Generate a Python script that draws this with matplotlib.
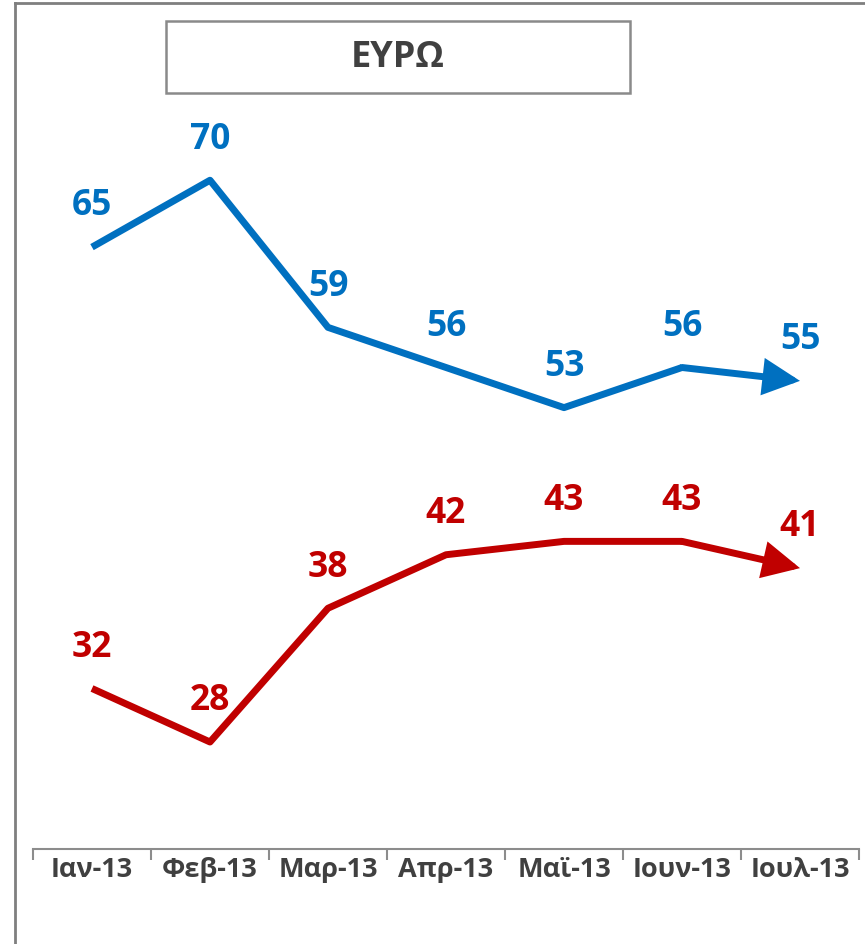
import matplotlib
matplotlib.use("Agg")
import matplotlib.pyplot as plt
from matplotlib.lines import Line2D
from matplotlib.patches import Rectangle
from matplotlib.ticker import FixedLocator

plt.rcParams['font.family'] = ['Open Sans', 'DejaVu Sans']

categories = ["Ιαν-13", "Φεβ-13", "Μαρ-13", "Απρ-13", "Μαϊ-13", "Ιουν-13", "Ιουλ-13"]
blue_values = [65, 70, 59, 56, 53, 56, 55]
red_values = [32, 28, 38, 42, 43, 43, 41]
title_text = "ΕΥΡΩ"

BLUE = "#0070C0"
RED = "#C00000"
GRAY_TXT = "#404040"
GRAY_LINE = "#8c8c8c"

W, H = 865, 945
fig = plt.figure(figsize=(W / 100, H / 100), dpi=100)

def fx(px):
    return px / W

def fy(py):
    return 1 - py / H

ax = fig.add_axes([fx(33), fy(850), fx(859) - fx(33), fy(47.5) - fy(850)])
ax.set_xlim(-0.5, len(categories) - 0.5)
ax.set_ylim(20, 80)

x = list(range(len(categories)))
for vals, color in [(blue_values, BLUE), (red_values, RED)]:
    ax.plot(x[:-1], vals[:-1], color=color, lw=5.0, solid_joinstyle='round',
            solid_capstyle='butt', zorder=3)
    ax.annotate('', xy=(x[-1], vals[-1]), xytext=(x[-2], vals[-2]),
                arrowprops=dict(arrowstyle='-|>,head_length=1.0,head_width=0.5',
                                mutation_scale=19, lw=5.0, color=color,
                                shrinkA=0, shrinkB=0, joinstyle='miter'),
                zorder=3)
    for xi, v in zip(x, vals):
        ax.annotate(str(v), xy=(xi, v), xytext=(0, 30), textcoords='offset points',
                    ha='center', va='center', fontsize=25.5, fontweight='bold',
                    color=color, zorder=4)

for s in ['top', 'right', 'left']:
    ax.spines[s].set_visible(False)
ax.spines['bottom'].set_color(GRAY_LINE)
ax.spines['bottom'].set_linewidth(1.5)
ax.set_yticks([])
ax.set_xticks(x)
ax.set_xticklabels(categories, fontsize=19.5, fontweight='bold', color=GRAY_TXT)
ax.tick_params(axis='x', which='major', length=0, pad=5)
ax.xaxis.set_minor_locator(FixedLocator([i - 0.5 for i in range(len(categories) + 1)]))
ax.tick_params(axis='x', which='minor', length=8, width=1.5, color=GRAY_LINE)
ax.patch.set_visible(False)

# outer frame (left and top edges visible)
fig.add_artist(Line2D([fx(15), fx(15)], [fy(4), 0], color="#7f7f7f", lw=2))
fig.add_artist(Line2D([fx(15), 1], [fy(4), fy(4)], color="#7f7f7f", lw=2))

# title box
fig.add_artist(Rectangle((fx(166), fy(94)), fx(630) - fx(166), fy(22) - fy(94),
                         transform=fig.transFigure, fill=False,
                         edgecolor="#8a8a8a", lw=1.8))
fig.text(fx(398), fy(58), title_text, ha='center', va='center', fontsize=26,
         fontweight='bold', color=GRAY_TXT)

fig.savefig("out.png", dpi=100)
